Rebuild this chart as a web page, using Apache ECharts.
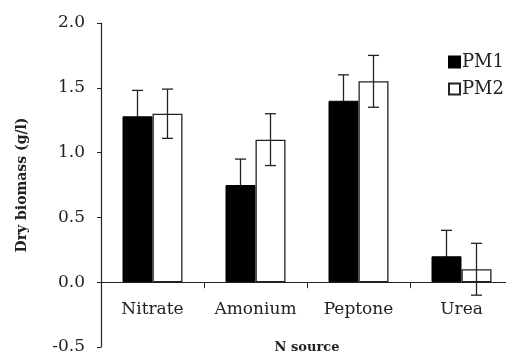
<!DOCTYPE html>
<html>
<head>
<meta charset="utf-8">
<script src="https://cdn.jsdelivr.net/npm/echarts@6/dist/echarts.min.js"></script>
<style>
  html, body { margin: 0; padding: 0; background: #fff; }
  #chart { width: 506px; height: 356px; }
</style>
</head>
<body>
<div id="chart"></div>
<script>
var categories = ['Nitrate', 'Amonium', 'Peptone', 'Urea']
var pm1 = [1.28, 0.75, 1.40, 0.20]
var pm2 = [1.30, 1.10, 1.55, 0.10]
var pm1Err = [0.20, 0.20, 0.20, 0.20]
var pm2Err = [0.19, 0.20, 0.20, 0.20]
var yTicks = [-0.5, 0.0, 0.5, 1.0, 1.5, 2.0]

var serif = 'DejaVu Serif'
var ink = '#222'

// grid geometry, used to lift the category axis onto y = 0
var gridTop = 23
var gridBottom = 9
var plotH = 356 - gridTop - gridBottom
var zeroLift = plotH * (0 - (-0.5)) / (2.0 - (-0.5))

function errData(vals, errs) {
  return vals.map(function(v, i) {
    return [i, v - errs[i], v + errs[i]]
  })
}

function errSeries(vals, errs, offset, z) {
  return {
    type: 'custom',
    z: z,
    silent: true,
    data: errData(vals, errs),
    renderItem: function(params, api) {
      var top = api.coord([api.value(0), api.value(2)])
      var bot = api.coord([api.value(0), api.value(1)])
      var x = top[0] + offset
      var cap = 5.5
      var style = { stroke: ink, lineWidth: 1.3 }
      return {
        type: 'group',
        children: [
          { type: 'line', shape: { x1: x, y1: top[1], x2: x, y2: bot[1] }, style: style },
          { type: 'line', shape: { x1: x - cap, y1: top[1], x2: x + cap, y2: top[1] }, style: style },
          { type: 'line', shape: { x1: x - cap, y1: bot[1], x2: x + cap, y2: bot[1] }, style: style }
        ]
      }
    }
  }
}

var myChart = echarts.init(document.getElementById('chart'))
var option = {
  animation: false,
  backgroundColor: '#fff',
  grid: {
    left: 101,
    right: -7,
    top: gridTop,
    bottom: gridBottom,
    containLabel: false,
    outerBoundsMode: 'none'
  },
  legend: {
    data: ['PM1', 'PM2'],
    orient: 'vertical',
    left: 443,
    top: 48,
    itemWidth: 11,
    itemHeight: 11,
    itemGap: 9,
    icon: 'rect',
    textStyle: { fontFamily: serif, fontSize: 18, color: ink, padding: [0, 0, 0, -3] }
  },
  xAxis: {
    type: 'category',
    data: categories,
    offset: -zeroLift,
    name: 'N source',
    nameLocation: 'middle',
    nameGap: 59,
    nameTextStyle: { fontFamily: serif, fontSize: 13, fontWeight: 'bold', color: ink },
    axisLine: { onZero: false, lineStyle: { color: ink, width: 1.2 } },
    axisTick: { show: true, length: 6, interval: 0, lineStyle: { color: ink } },
    axisLabel: { margin: 19, fontFamily: serif, fontSize: 17, color: ink, interval: 0 }
  },
  yAxis: {
    type: 'value',
    min: -0.5,
    max: 2.0,
    interval: 0.5,
    name: 'Dry biomass (g/l)',
    nameLocation: 'middle',
    nameGap: 72,
    nameTextStyle: { fontFamily: serif, fontSize: 14, fontWeight: 'bold', color: ink },
    axisLine: { show: true, lineStyle: { color: ink, width: 1.2 } },
    axisTick: { show: true, length: 4, lineStyle: { color: ink } },
    splitLine: { show: false },
    axisLabel: {
      margin: 16,
      fontFamily: serif,
      fontSize: 17,
      color: ink,
      formatter: function(v) {
        return yTicks.indexOf(v) > -1 ? v.toFixed(1) : ''
      }
    }
  },
  series: [
    {
      name: 'PM1',
      type: 'bar',
      z: 3,
      barWidth: 30,
      barGap: '0%',
      data: pm1,
      itemStyle: { color: '#000', borderColor: '#000', borderWidth: 1 }
    },
    {
      name: 'PM2',
      type: 'bar',
      z: 3,
      barWidth: 30,
      barGap: '0%',
      data: pm2,
      itemStyle: { color: '#fff', borderColor: ink, borderWidth: 1.3 }
    },
    errSeries(pm1, pm1Err, -15, 1),
    errSeries(pm2, pm2Err, 15, 10)
  ]
}
myChart.setOption(option, true)
</script>
</body>
</html>
